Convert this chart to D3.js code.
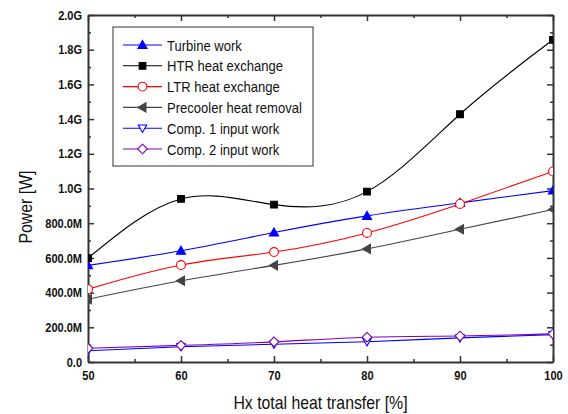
<!DOCTYPE html>
<html>
<head>
<meta charset="utf-8">
<script src="https://cdn.jsdelivr.net/npm/d3@7"></script>
<style>
  body { margin: 0; background: #fff; }
  svg { display: block; }
  text { font-family: "Liberation Sans", Arial, sans-serif; fill: #111; }
</style>
</head>
<body>
<div id="chart"></div>
<script>
// Hx total heat transfer [%]
const hx = [50, 60, 70, 80, 90, 100];

// power in W
const turbineWork = [557e6, 641e6, 746e6, 842e6, 917e6, 988e6];
const htrHeat = [599e6, 940e6, 907e6, 982e6, 1428e6, 1857e6];
const ltrHeat = [420e6, 559e6, 634e6, 744e6, 911e6, 1098e6];
const precoolerHeat = [362e6, 468e6, 557e6, 652e6, 765e6, 879e6];
const comp1Work = [65e6, 88e6, 102e6, 117e6, 139e6, 158e6];
const comp2Work = [79e6, 96e6, 116e6, 143e6, 150e6, 162e6];

const seriesNames = ['Turbine work', 'HTR heat exchange', 'LTR heat exchange',
  'Precooler heat removal', 'Comp. 1 input work', 'Comp. 2 input work'];

const xTicks = [50, 60, 70, 80, 90, 100];
const yTicks = [0, 200e6, 400e6, 600e6, 800e6, 1000e6, 1200e6, 1400e6, 1600e6, 1800e6, 2000e6];

const series = [
  { name: seriesNames[0], values: turbineWork, color: '#0000ff', marker: 'triUp', fill: '#0000ff' },
  { name: seriesNames[1], values: htrHeat, color: '#000000', marker: 'square', fill: '#000000' },
  { name: seriesNames[2], values: ltrHeat, color: '#ff0000', marker: 'circle', fill: '#ffffff' },
  { name: seriesNames[3], values: precoolerHeat, color: '#444444', marker: 'triLeft', fill: '#444444' },
  { name: seriesNames[4], values: comp1Work, color: '#0000ff', marker: 'triDown', fill: '#ffffff' },
  { name: seriesNames[5], values: comp2Work, color: '#8000b0', marker: 'diamond', fill: '#ffffff' }
];

const W = 568, H = 414;
const margin = { left: 88, right: 15, top: 15, bottom: 52 };
const width = W - margin.left - margin.right;
const height = H - margin.top - margin.bottom;

const svg = d3.select('#chart').append('svg')
  .attr('width', W).attr('height', H);

const g = svg.append('g')
  .attr('transform', 'translate(' + margin.left + ',' + margin.top + ')');

const x = d3.scaleLinear().domain([50, 100]).range([0, width]);
const y = d3.scaleLinear().domain([0, 2000e6]).range([height, 0]);

const fmt = v => v === 0 ? '0.0' : v < 1e9 ? (v / 1e6).toFixed(1) + 'M' : (v / 1e9).toFixed(1) + 'G';

g.append('defs').append('clipPath').attr('id', 'clip')
  .append('rect').attr('width', width).attr('height', height);

// no narrow font installed, so squeeze Arial-like text horizontally
const squeeze = 0.85;

function styleAxis(sel) {
  sel.select('.domain').attr('stroke', '#333').attr('stroke-width', 2);
  sel.selectAll('.tick line').attr('stroke', '#333').attr('stroke-width', 1.5);
}
function minor(sel) {
  sel.select('.domain').remove();
  sel.selectAll('line').attr('stroke', '#333').attr('stroke-width', 1.5);
}

const xMinor = d3.range(55, 100, 10);
const yMinor = d3.range(100e6, 2000e6, 200e6);

const xAxis = g.append('g').attr('transform', 'translate(0,' + height + ')')
  .call(d3.axisBottom(x).tickValues(xTicks).tickSizeInner(-6).tickSizeOuter(0).tickPadding(9).tickFormat(d3.format('d')));
xAxis.selectAll('text').attr('font-size', 13).attr('font-weight', 'bold').attr('fill', '#222')
  .attr('transform', 'scale(' + squeeze + ',1)');
styleAxis(xAxis);
g.append('g').attr('transform', 'translate(0,' + height + ')')
  .call(d3.axisBottom(x).tickValues(xMinor).tickSize(-3).tickFormat('')).call(minor);

const yAxis = g.append('g')
  .call(d3.axisLeft(y).tickValues(yTicks).tickSizeInner(-6).tickSizeOuter(0).tickPadding(7).tickFormat(fmt));
yAxis.selectAll('text').attr('font-size', 13).attr('font-weight', 'bold').attr('fill', '#222')
  .attr('transform', 'scale(' + squeeze + ',1)');
styleAxis(yAxis);
g.append('g')
  .call(d3.axisLeft(y).tickValues(yMinor).tickSize(-3).tickFormat('')).call(minor);

// top and right frame axes
const topAxis = g.append('g')
  .call(d3.axisTop(x).tickValues(xTicks).tickSizeInner(-6).tickSizeOuter(0).tickFormat(''));
styleAxis(topAxis);
g.append('g')
  .call(d3.axisTop(x).tickValues(xMinor).tickSize(-3).tickFormat('')).call(minor);

const rightAxis = g.append('g').attr('transform', 'translate(' + width + ',0)')
  .call(d3.axisRight(y).tickValues(yTicks).tickSizeInner(-6).tickSizeOuter(0).tickFormat(''));
styleAxis(rightAxis);
g.append('g').attr('transform', 'translate(' + width + ',0)')
  .call(d3.axisRight(y).tickValues(yMinor).tickSize(-3).tickFormat('')).call(minor);

// axis titles
svg.append('text')
  .attr('transform', 'translate(' + (margin.left + width / 2) + ',409) scale(0.88,1)')
  .attr('text-anchor', 'middle').attr('font-size', 18)
  .text('Hx total heat transfer [%]');

svg.append('text')
  .attr('transform', 'translate(32,207) rotate(-90) scale(0.88,1)')
  .attr('text-anchor', 'middle').attr('font-size', 18)
  .text('Power [W]');

// markers
function markerPath(type, s) {
  switch (type) {
    case 'triUp': return 'M0,' + (-s) + 'L' + s + ',' + (s * 0.75) + 'L' + (-s) + ',' + (s * 0.75) + 'Z';
    case 'triDown': return 'M0,' + s + 'L' + s + ',' + (-s * 0.75) + 'L' + (-s) + ',' + (-s * 0.75) + 'Z';
    case 'triLeft': return 'M' + (-s) + ',0L' + (s * 0.75) + ',' + (-s) + 'L' + (s * 0.75) + ',' + s + 'Z';
    case 'square': return 'M' + (-s * 0.8) + ',' + (-s * 0.8) + 'h' + (s * 1.6) + 'v' + (s * 1.6) + 'h' + (-s * 1.6) + 'Z';
    case 'diamond': return 'M0,' + (-s) + 'L' + s + ',0L0,' + s + 'L' + (-s) + ',0Z';
    default: return d3.symbol(d3.symbolCircle, Math.PI * s * s * 0.85)();
  }
}
const markerSize = { triUp: 4.6, triDown: 4.2, triLeft: 4.6, square: 4.2, circle: 4.8, diamond: 4.8 };

const line = d3.line().curve(d3.curveNatural)
  .x((d, i) => x(hx[i])).y(d => y(d));

const plot = g.append('g').attr('clip-path', 'url(#clip)');

series.forEach(s => {
  plot.append('path').datum(s.values)
    .attr('d', line).attr('fill', 'none')
    .attr('stroke', s.color).attr('stroke-width', 1.1);
  plot.selectAll(null).data(s.values).enter().append('path')
    .attr('transform', (d, i) => 'translate(' + x(hx[i]) + ',' + y(d) + ')')
    .attr('d', markerPath(s.marker, markerSize[s.marker]))
    .attr('fill', s.fill).attr('stroke', s.color).attr('stroke-width', 1.1);
});

// legend
const legend = svg.append('g').attr('transform', 'translate(113,27)');
legend.append('rect').attr('width', 200).attr('height', 139)
  .attr('fill', '#fff').attr('stroke', '#333').attr('stroke-width', 1);

const items = legend.selectAll('g.item').data(series).enter().append('g')
  .attr('transform', (d, i) => 'translate(0,' + (18 + i * 20.8) + ')');
items.append('line').attr('x1', 10).attr('x2', 49)
  .attr('stroke', d => d.color).attr('stroke-width', 1.1);
items.append('path')
  .attr('transform', 'translate(29.5,0)')
  .attr('d', d => markerPath(d.marker, markerSize[d.marker]))
  .attr('fill', d => d.fill).attr('stroke', d => d.color).attr('stroke-width', 1.1);
items.append('text').attr('transform', 'translate(54,5.5) scale(0.87,1)')
  .attr('font-size', 15).text(d => d.name);
</script>
</body>
</html>
